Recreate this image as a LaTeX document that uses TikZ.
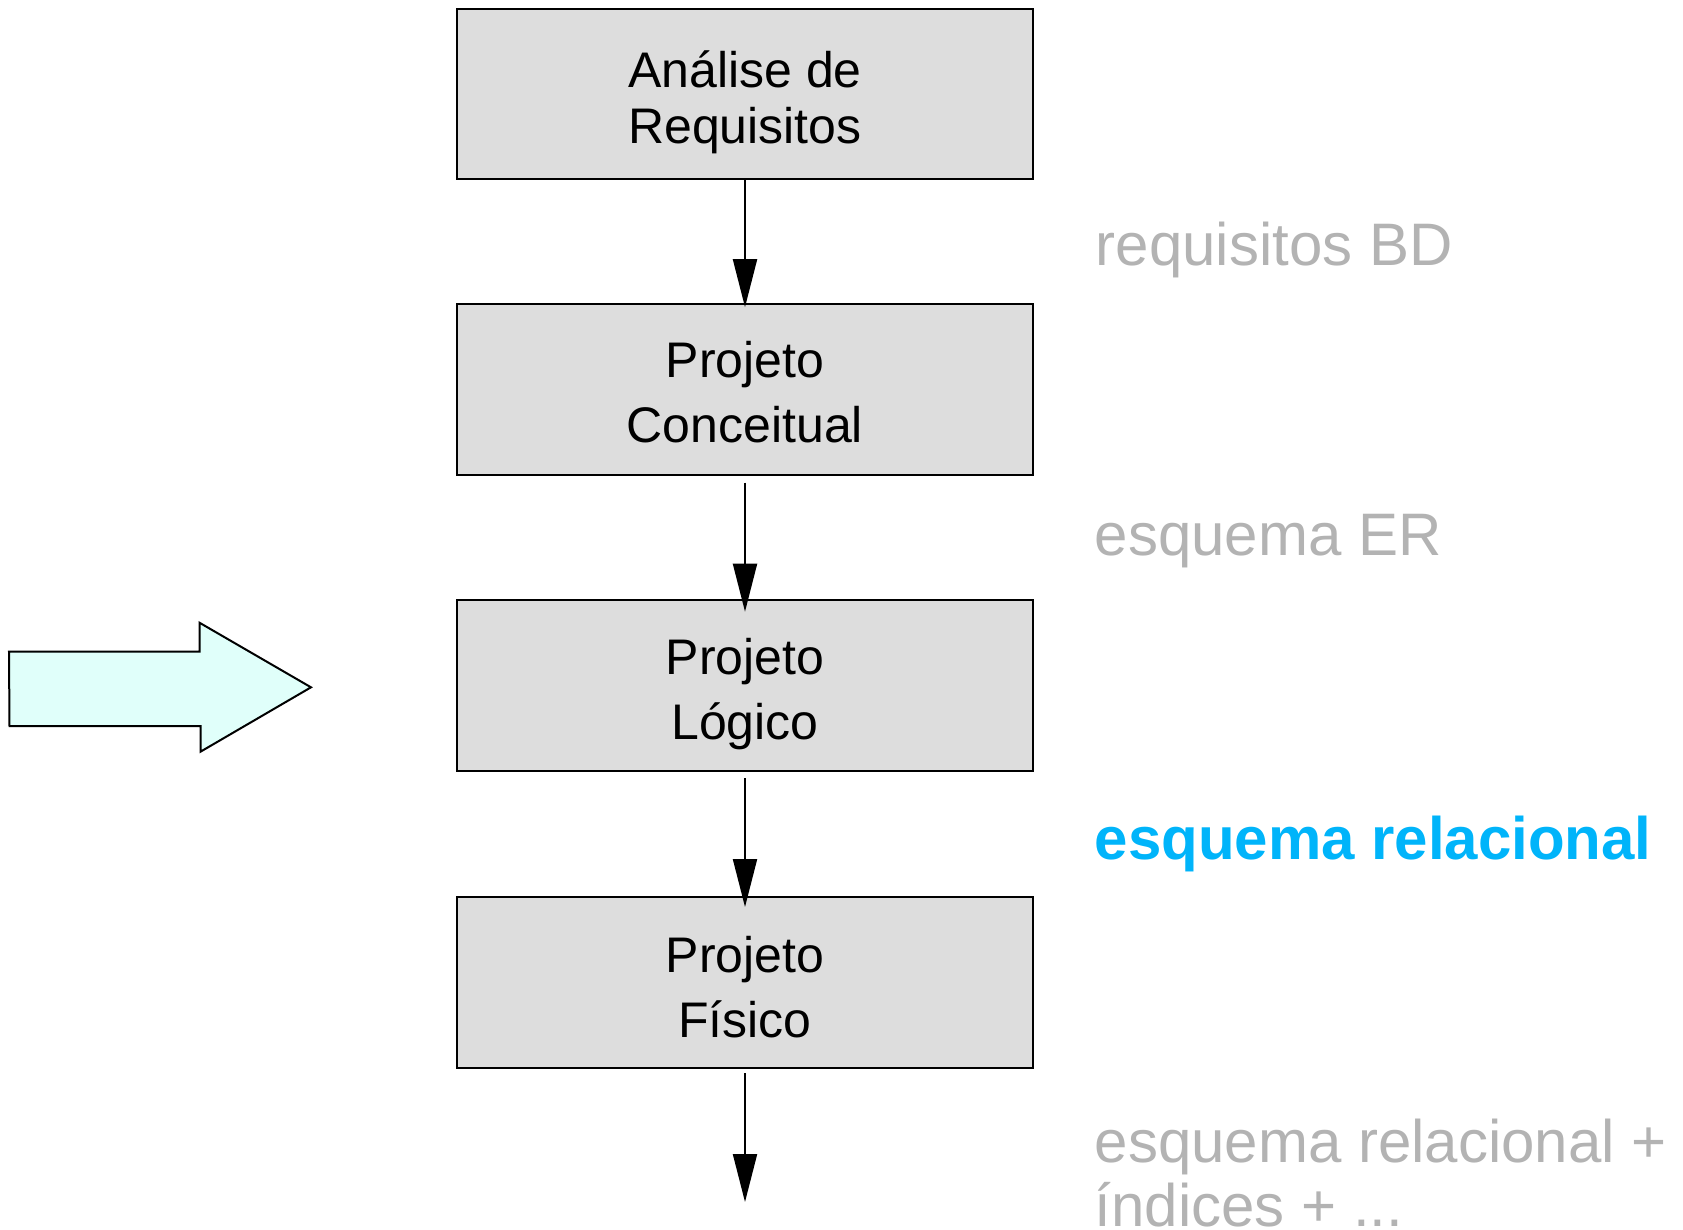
\documentclass[tikz,border=0pt]{standalone}
\usepackage{fontspec}
\setmainfont{Liberation Sans}
\usetikzlibrary{arrows.meta}

\definecolor{boxgray}{HTML}{DDDDDD}
\definecolor{labelgray}{HTML}{B3B3B3}
\definecolor{relblue}{HTML}{00B4FA}
\definecolor{arrowcyan}{HTML}{E0FFFA}

\tikzset{
  stagebox/.style={draw=black, line width=2pt, fill=boxgray, rectangle,
    minimum width=576pt, minimum height=171pt, inner sep=0pt, outer sep=0pt},
  stagetext/.style={anchor=base, inner sep=0pt, font=\fontsize{50}{60}\selectfont},
  outlabel/.style={anchor=base west, inner sep=0pt, text=labelgray,
    font=\fontsize{60}{66}\selectfont},
  keylabel/.style={anchor=base west, inner sep=0pt, text=relblue,
    font=\fontsize{60}{66}\selectfont\bfseries},
  flow/.style={draw=black, line width=2pt,
    -{Triangle[length=48pt, width=24pt]}},
  pointer/.style={draw=black, line width=2pt, fill=arrowcyan, line join=miter}
}

\begin{document}
\begin{tikzpicture}[x=1pt, y=-1pt]
  \useasboundingbox (0,0) rectangle (1683,1229);

  % design stages
  \node[stagebox, minimum height=170pt] (b1) at (745,93.5) {};
  \node[stagebox] (b2) at (745,389) {};
  \node[stagebox] (b3) at (745,685.5) {};
  \node[stagebox] (b4) at (745,982.5) {};

  \node[stagetext] (t1a) at (745,87) {Análise de};
  \node[stagetext] (t1b) at (745,143) {Requisitos};
  \node[stagetext] (t2a) at (745,377) {Projeto};
  \node[stagetext] (t2b) at (745,442) {Conceitual};
  \node[stagetext] (t3a) at (745,674) {Projeto};
  \node[stagetext] (t3b) at (745,739) {Lógico};
  \node[stagetext] (t4a) at (745,972) {Projeto};
  \node[stagetext] (t4b) at (745,1037) {Físico};

  % products of each stage
  \node[outlabel] (l1) at (1095.5,265) {requisitos BD};
  \node[outlabel] (l2) at (1094.5,555) {esquema ER};
  \node[keylabel] (l3) at (1094.5,859) {esquema relacional};
  \node[outlabel] (l4a) at (1094.5,1162) {esquema relacional +};
  \node[outlabel] (l4b) at (1094.5,1226) {índices + ...};

  % flow between stages
  \coordinate (out) at (745,1202);
  \draw[flow] (b1.south) -- ([yshift=-3.7pt]b2.north);
  \draw[flow] ([yshift=-8pt]b2.south) -- ([yshift=-11.7pt]b3.north);
  \draw[flow] ([yshift=-7.3pt]b3.south) -- ([yshift=-10pt]b4.north);
  \draw[flow] ([yshift=-5pt]b4.south) -- (out);

  % block arrow pointing at the current stage
  \draw[pointer] (9,651.7) -- (199.5,651.7) -- (199.5,622.7) -- (311,687.3)
    -- (200.5,751.7) -- (200.5,726) -- (9.5,726) -- cycle;
\end{tikzpicture}
\end{document}
